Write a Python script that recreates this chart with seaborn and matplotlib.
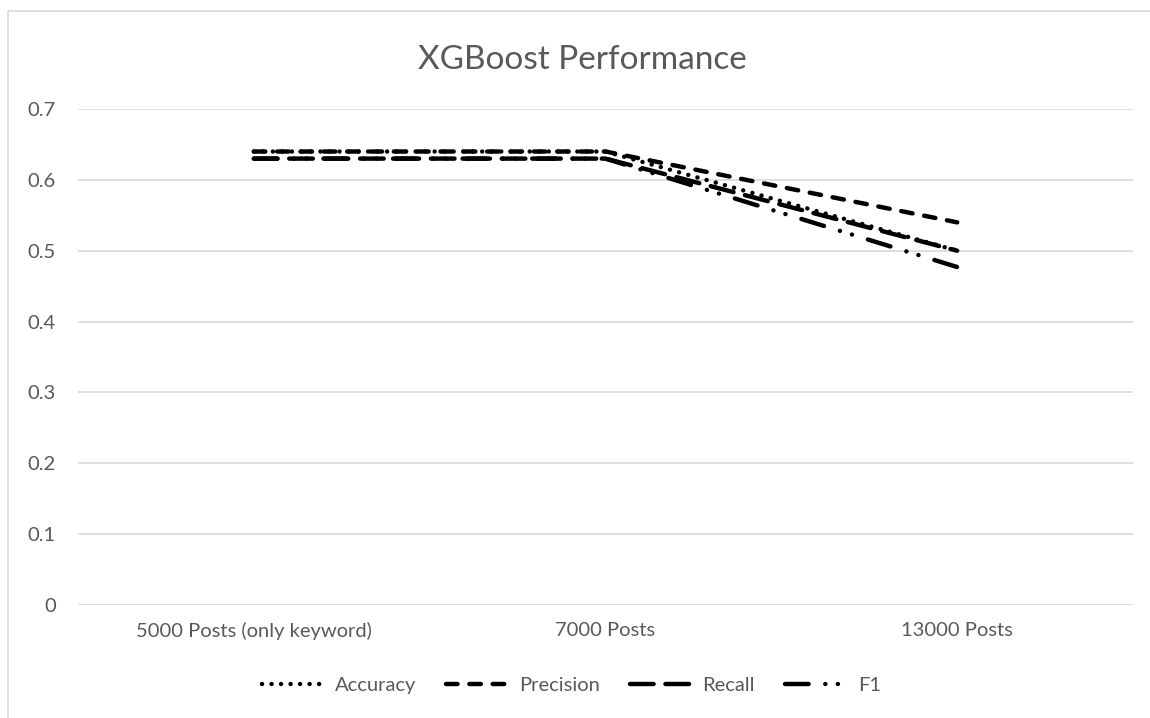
import matplotlib
matplotlib.use("Agg")
import matplotlib.pyplot as plt
from matplotlib.patches import Rectangle
import seaborn as sns
import pandas as pd

# Model scores per training-set size
datasets = ["5000 Posts (only keyword)", "7000 Posts", "13000 Posts"]
accuracy = [0.64, 0.64, 0.50]
precision = [0.64, 0.64, 0.54]
recall = [0.63, 0.63, 0.50]
f1 = [0.63, 0.63, 0.477]
metrics = ["Accuracy", "Precision", "Recall", "F1"]
y_ticks = [0, 0.1, 0.2, 0.3, 0.4, 0.5, 0.6, 0.7]

df = pd.DataFrame({
    "Dataset": datasets * 4,
    "Metric": [m for m in metrics for _ in datasets],
    "Score": accuracy + precision + recall + f1,
})

sns.set_theme(style="white")
plt.rcParams["font.family"] = ["Lato", "DejaVu Sans"]
plt.rcParams["lines.scale_dashes"] = False

GREY_TEXT = "#595959"
GRID = "#d9d9d9"
LW = 3.2

fig = plt.figure(figsize=(11.5, 7.18), dpi=100)
ax = fig.add_axes([78 / 1150, 1 - 605 / 718, (1133 - 78) / 1150, (605 - 109) / 718])

# Dash patterns in points (round dot, dash, long dash, long dash dot dot)
dash_styles = {
    "Accuracy": (0.05, 6.8),
    "Precision": (8.3, 8.5),
    "Recall": (17, 8.5),
    "F1": (17, 12, 0.05, 9, 0.05, 12),
}

sns.lineplot(
    data=df, x="Dataset", y="Score", hue="Metric", style="Metric",
    hue_order=metrics, style_order=metrics,
    palette=["black"] * 4, dashes=dash_styles, linewidth=LW,
    sort=False, ax=ax, legend=False,
)
for ln in ax.lines:
    ln.set_dash_capstyle("round")
    ln.set_solid_capstyle("round")

ax.set_xlim(-0.5, 2.5)
ax.set_ylim(0, 0.7)
ax.set_yticks(y_ticks)
ax.set_yticklabels(["0" if v == 0 else f"{v:.1f}" for v in y_ticks])
ax.yaxis.grid(True, color=GRID, linewidth=1.2)
ax.xaxis.grid(False)
ax.set_axisbelow(True)
for s in ax.spines.values():
    s.set_visible(False)
ax.tick_params(axis="both", length=0, labelsize=14.5, colors=GREY_TEXT)
ax.tick_params(axis="y", pad=16)
ax.tick_params(axis="x", pad=12)
ax.set_xlabel("")
ax.set_ylabel("")

fig.text(582 / 1150, 1 - 60 / 718, "XGBoost Performance", ha="center", va="center",
         fontsize=24, color=GREY_TEXT)

# Legend built from the plotted line styles
handles = []
for m in metrics:
    h, = ax.plot([], [], color="black", linewidth=LW)
    h.set_dashes(dash_styles[m])
    h.set_dash_capstyle("round")
    handles.append(h)
leg = fig.legend(handles, metrics, loc="center", bbox_to_anchor=(0.497, 1 - 685 / 718),
                 ncol=4, frameon=False, fontsize=14.5, handlelength=3.0,
                 columnspacing=1.5, handletextpad=0.6)
for t in leg.get_texts():
    t.set_color(GREY_TEXT)

# Chart-area border
fig.patches.append(Rectangle((8 / 1150, -0.2), 1.3, 1.2 - 11 / 718,
                             transform=fig.transFigure, fill=False,
                             edgecolor=GRID, linewidth=1.2))

fig.savefig("out.png", dpi=100)
